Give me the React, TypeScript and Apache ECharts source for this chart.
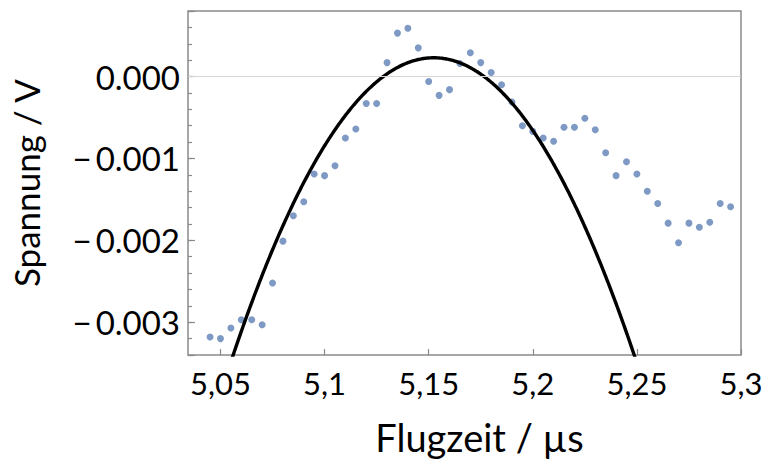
import React, { useEffect, useRef } from "react";
import * as echarts from "echarts";

// Flight time (µs) of each measured sample
const flightTimes: number[] = [
  5.045, 5.05, 5.055, 5.06, 5.065, 5.07, 5.075, 5.08, 5.085, 5.09,
  5.095, 5.1, 5.105, 5.11, 5.115, 5.12, 5.125, 5.13, 5.135, 5.14,
  5.145, 5.15, 5.155, 5.16, 5.165, 5.17, 5.175, 5.18, 5.185, 5.19,
  5.195, 5.2, 5.205, 5.21, 5.215, 5.22, 5.225, 5.23, 5.235, 5.24,
  5.245, 5.25, 5.255, 5.26, 5.265, 5.27, 5.275, 5.28, 5.285, 5.29,
  5.295,
];

// Measured voltage (V)
const voltages: number[] = [
  -0.00318, -0.0032, -0.00307, -0.00297, -0.00297, -0.00303, -0.00252, -0.00201, -0.0017, -0.00153,
  -0.00119, -0.00121, -0.00109, -0.00075, -0.00064, -0.00033, -0.00033, 0.00017, 0.00053, 0.00059,
  0.00035, -0.00006, -0.00023, -0.00016, 0.00016, 0.00029, 0.00017, 0.00005, -0.0001, -0.00031,
  -0.0006, -0.00067, -0.00075, -0.00079, -0.00062, -0.00062, -0.00051, -0.00065, -0.00093, -0.00121,
  -0.00104, -0.00119, -0.0014, -0.00155, -0.00179, -0.00203, -0.00179, -0.00184, -0.00178, -0.00155,
  -0.00159,
];

// Parabolic fit: U(t) = FIT_Y0 - FIT_A * (t - FIT_X0)^2
const FIT_X0 = 5.1524;
const FIT_Y0 = 0.000229;
const FIT_A = 0.3913;
const FIT_RANGE: [number, number] = [5.05, 5.26];

const xTickValues: number[] = [5.05, 5.1, 5.15, 5.2, 5.25, 5.3];
const yLabelValues: number[] = [0, -0.001, -0.002, -0.003];

const X_MIN = 5.0344;
const X_MAX = 5.3;
const Y_MIN = -0.0034;
const Y_MAX = 0.0008;

const FONT = "Lato";

export default function App() {
  const ref = useRef<HTMLDivElement>(null);

  useEffect(() => {
    if (!ref.current) return;
    const chart = echarts.init(ref.current, undefined, { renderer: "svg" });

    const points = flightTimes.map((t, i) => [t, voltages[i]]);
    const fit: number[][] = [];
    const steps = 420;
    for (let k = 0; k <= steps; k++) {
      const t = FIT_RANGE[0] + ((FIT_RANGE[1] - FIT_RANGE[0]) * k) / steps;
      fit.push([t, FIT_Y0 - FIT_A * (t - FIT_X0) * (t - FIT_X0)]);
    }

    const isXTick = (v: number) => xTickValues.some((x) => Math.abs(x - v) < 1e-6);
    const isYLabel = (v: number) => yLabelValues.some((y) => Math.abs(y - v) < 1e-9);

    chart.setOption({
      animation: false,
      grid: {
        left: 185,
        right: 28,
        top: 11,
        bottom: 115,
        show: true,
        borderColor: "#8a8a8a",
        borderWidth: 1.5,
        backgroundColor: "transparent",
      },
      xAxis: {
        type: "value",
        min: X_MIN,
        max: X_MAX,
        splitNumber: 5,
        axisLine: { show: false, onZero: false },
        splitLine: { show: false },
        axisTick: { inside: true, length: 6, lineStyle: { color: "#8a8a8a", width: 1.2 } },
        axisLabel: {
          margin: 12,
          fontSize: 31,
          fontFamily: FONT,
          color: "#000",
          showMinLabel: false,
          formatter: (v: number) =>
            isXTick(v) ? String(parseFloat(v.toFixed(2))).replace(".", ",") : "",
        },
        name: "Flugzeit / µs",
        nameLocation: "middle",
        nameGap: 63,
        nameTextStyle: { fontSize: 38, fontFamily: FONT, color: "#000", padding: [0, 0, 0, 30] },
      },
      yAxis: [
        {
          type: "value",
          min: Y_MIN,
          max: Y_MAX,
          interval: 0.0002,
          axisLine: { show: false, onZero: false },
          splitLine: { show: false },
          axisTick: { inside: true, length: 4, lineStyle: { color: "#8a8a8a", width: 1.2 } },
          axisLabel: {
            margin: 8,
            fontSize: 33,
            fontFamily: FONT,
            color: "#000",
            formatter: (v: number) =>
              isYLabel(v)
                ? (v < -1e-9 ? "\u2212\u2009" : "") + Math.abs(v).toFixed(3)
                : "",
          },
          name: "Spannung / V",
          nameLocation: "middle",
          nameGap: 145,
          nameTextStyle: { fontSize: 35, fontFamily: FONT, color: "#000" },
        },
        {
          type: "value",
          min: Y_MIN,
          max: Y_MAX,
          position: "left",
          axisLine: { show: false, onZero: false },
          splitLine: { show: false },
          axisLabel: { show: false },
          axisTick: { inside: true, length: 7, lineStyle: { color: "#8a8a8a", width: 1.2 } },
        },
      ],
      series: [
        {
          type: "scatter",
          data: points,
          symbolSize: 7,
          itemStyle: { color: "#5E81B5" },
          markLine: {
            silent: true,
            symbol: ["none", "none"],
            label: { show: false },
            lineStyle: { color: "#d6d6d6", width: 1, type: "solid" },
            data: [{ yAxis: 0 }],
          },
        },
        {
          type: "line",
          data: fit,
          showSymbol: false,
          symbol: "none",
          clip: true,
          lineStyle: { color: "#000", width: 3.4 },
        },
      ],
    });

    return () => chart.dispose();
  }, []);

  return (
    <div
      ref={ref}
      style={{ position: "absolute", left: 0, top: 0, width: 769, height: 470 }}
    />
  );
}
